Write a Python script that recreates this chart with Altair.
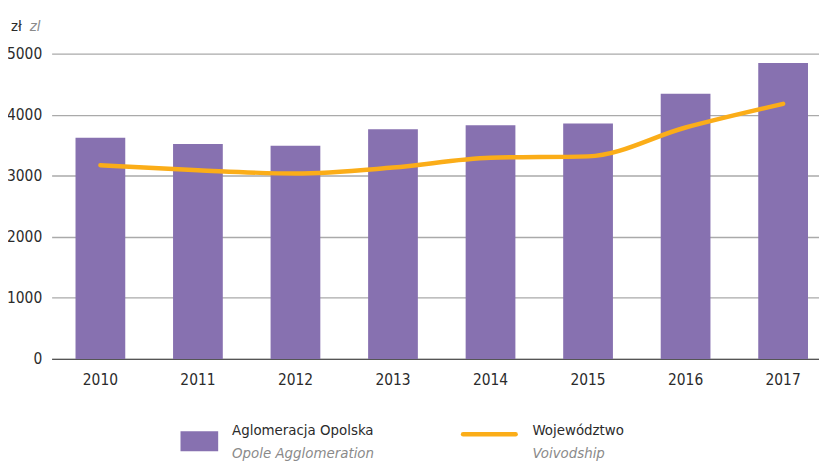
import altair as alt
import pandas as pd

years = ["2010", "2011", "2012", "2013", "2014", "2015", "2016", "2017"]
aglomeracja = [3620, 3520, 3490, 3760, 3825, 3857, 4344, 4846]
wojewodztwo = [3172, 3090, 3036, 3133, 3295, 3317, 3790, 4177]
y_ticks = [0, 1000, 2000, 3000, 4000, 5000]

FONT = "DejaVu Sans Condensed, Liberation Sans Narrow, sans-serif"
BAR = "#8771B0"
LINE = "#FBAD18"
DARK = "#2b2b2b"
GREY = "#8a8a8a"
FS = 15.5

df = pd.DataFrame({"year": years, "agl": aglomeracja, "woj": wojewodztwo})

xscale = alt.Scale(range=[0, 787], paddingInner=0.49, paddingOuter=0.245)
yscale = alt.Scale(domain=[0, 5000], nice=False)

x_enc = alt.X("year:N", scale=xscale, sort=years,
              axis=alt.Axis(title=None, labelAngle=0, ticks=False, domain=True,
                            domainColor="#555555", domainWidth=1.2, grid=False,
                            labelFont=FONT, labelFontSize=FS, labelColor=DARK,
                            labelPadding=14))

bars = alt.Chart(df).mark_bar(color=BAR).encode(
    x=x_enc,
    y=alt.Y("agl:Q", scale=yscale,
            axis=alt.Axis(title=None, values=y_ticks, format="d", ticks=False, domain=False,
                          grid=True, gridColor="#aaaaaa", gridWidth=1.3,
                          labelFont=FONT, labelFontSize=FS, labelColor=DARK,
                          labelPadding=10)),
)

line = alt.Chart(df).mark_line(color=LINE, strokeWidth=4.5, strokeCap="round",
                               interpolate="monotone").encode(
    x=alt.X("year:N", scale=xscale, sort=years),
    y=alt.Y("woj:Q", scale=yscale),
)

def txt(s, x, y, italic=False, color=DARK, size=FS):
    return alt.Chart(pd.DataFrame({"t": [s]})).mark_text(
        align="left", baseline="alphabetic", font=FONT, fontSize=size,
        fontStyle="italic" if italic else "normal", color=color,
    ).encode(text="t:N", x=alt.value(x), y=alt.value(y))

unit1 = txt("zł", -41, -23, size=15)
unit2 = txt("zl", -22, -23, italic=True, color=GREY, size=15)

leg_rect = alt.Chart(pd.DataFrame({"k": [1]})).mark_rect(color=BAR).encode(
    x=alt.value(130), x2=alt.value(168), y=alt.value(381), y2=alt.value(401))
leg_line = alt.Chart(pd.DataFrame({"k": [1]})).mark_rule(
    color=LINE, strokeWidth=4.5, strokeCap="round").encode(
    x=alt.value(415), x2=alt.value(468), y=alt.value(384))

l1 = txt("Aglomeracja Opolska", 182, 385, size=15)
l2 = txt("Opole Agglomeration", 182, 408, italic=True, color=GREY, size=15)
l3 = txt("Województwo", 485, 385, size=15)
l4 = txt("Voivodship", 485, 408, italic=True, color=GREY, size=15)

chart = alt.layer(bars, line, unit1, unit2, leg_rect, leg_line, l1, l2, l3, l4).properties(
    width=774, height=308,
    padding={"left": 44, "top": 44, "right": 0, "bottom": 104},
    autosize="none",
).configure_view(stroke=None)

chart.save("out.html", embed_options={"renderer": "svg", "actions": False})
